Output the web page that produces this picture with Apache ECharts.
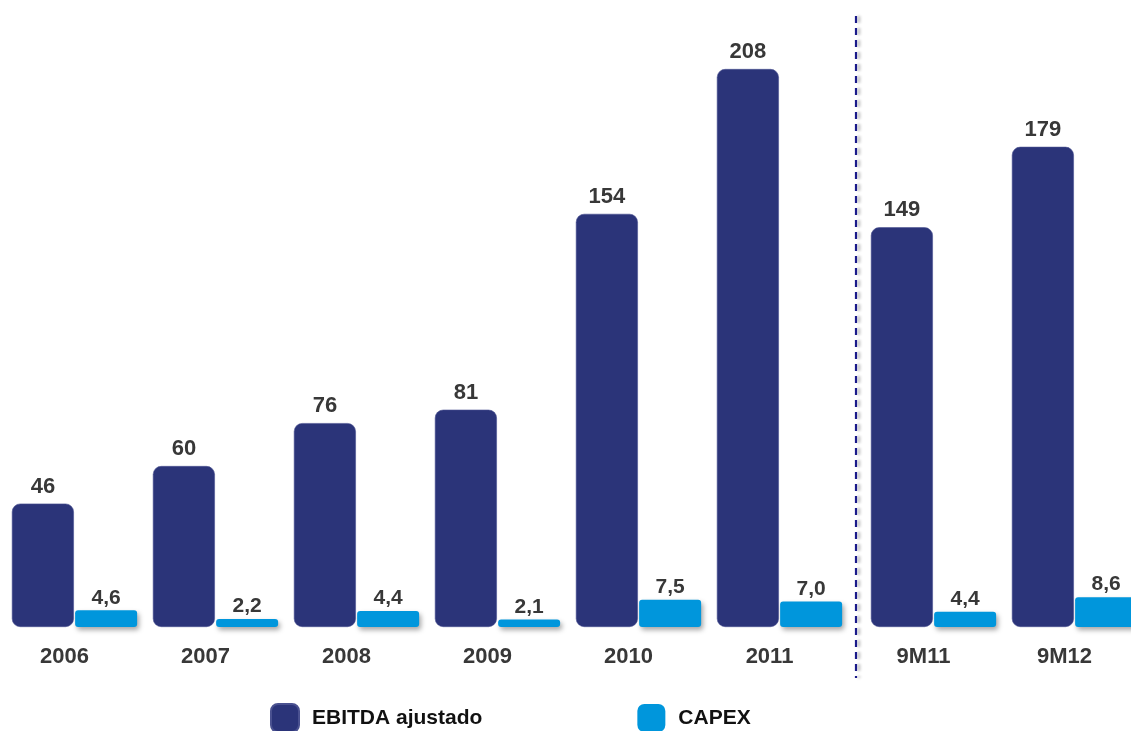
<!DOCTYPE html>
<html>
<head>
<meta charset="utf-8">
<title>EBITDA ajustado y CAPEX</title>
<script src="https://cdn.jsdelivr.net/npm/echarts@6/dist/echarts.min.js"></script>
<style>
  html, body { margin: 0; padding: 0; background: #fff; }
  #chart { width: 1131px; height: 731px; }
</style>
</head>
<body>
<div id="chart"></div>
<script>
// periodos anuales + 9 meses
const categorias = ['2006', '2007', '2008', '2009', '2010', '2011', '9M11', '9M12'];
const ebitda = [46, 60, 76, 81, 154, 208, 149, 179];
const capex = [4.6, 2.2, 4.4, 2.1, 7.5, 7.0, 4.4, 8.6];
const corte = 6; // donde empiezan los 9M

const AZUL = '#2b3479';
const CELESTE = '#0096dc';
const FONT = 'Liberation Sans, Arial, sans-serif';

const chart = echarts.init(document.getElementById('chart'));

const labelBase = {
  show: true,
  position: 'top',
  fontFamily: FONT,
  fontWeight: 'bold',
  color: '#383838'
};

const ejeX = (grid, data) => ({
  type: 'category',
  gridIndex: grid,
  data: data,
  axisLine: { show: false },
  axisTick: { show: false },
  axisLabel: {
    margin: 19,
    padding: [0, 20, 0, 0],
    fontFamily: FONT,
    fontSize: 22,
    fontWeight: 'bold',
    color: '#383838'
  }
});

const serieEbitda = (idx, data) => ({
  name: 'EBITDA ajustado',
  type: 'bar',
  xAxisIndex: idx,
  yAxisIndex: idx * 2,
  data: data,
  barWidth: 62,
  barGap: '2%',
  itemStyle: { color: AZUL, borderRadius: 8, borderColor: '#4a5190', borderWidth: 0.6 },
  label: Object.assign({}, labelBase, { fontSize: 22, distance: 6 })
});

const serieCapex = (idx, data) => ({
  name: 'CAPEX',
  type: 'bar',
  xAxisIndex: idx,
  yAxisIndex: idx * 2 + 1,
  data: data,
  barWidth: 62,
  barGap: '2%',
  itemStyle: {
    color: CELESTE,
    borderRadius: 3,
    shadowColor: 'rgba(0,0,0,0.35)',
    shadowBlur: 5,
    shadowOffsetX: 2,
    shadowOffsetY: 3
  },
  label: Object.assign({}, labelBase, {
    fontSize: 21,
    distance: 2,
    formatter: (p) => p.value.toFixed(1).replace('.', ',')
  })
});

const option = {
  animation: false,
  backgroundColor: '#fff',
  legend: {
    data: ['EBITDA ajustado', 'CAPEX'],
    left: 270,
    top: 703,
    padding: 0,
    icon: 'roundRect',
    itemWidth: 28,
    itemHeight: 28,
    itemGap: 155,
    textStyle: {
      fontFamily: FONT,
      fontSize: 21,
      fontWeight: 'bold',
      color: '#111',
      padding: [0, 0, 0, 8]
    }
  },
  grid: [
    { left: 4, top: 10, width: 846, bottom: 104, containLabel: false, outerBoundsMode: 'none' },
    { left: 863, top: 10, width: 282, bottom: 104, containLabel: false, outerBoundsMode: 'none' }
  ],
  xAxis: [
    ejeX(0, categorias.slice(0, corte)),
    ejeX(1, categorias.slice(corte))
  ],
  yAxis: [
    { type: 'value', gridIndex: 0, min: 0, max: 230, show: false },
    { type: 'value', gridIndex: 0, min: 0, max: 170, show: false },
    { type: 'value', gridIndex: 1, min: 0, max: 230, show: false },
    { type: 'value', gridIndex: 1, min: 0, max: 178, show: false }
  ],
  series: [
    serieEbitda(0, ebitda.slice(0, corte)),
    serieCapex(0, capex.slice(0, corte)),
    serieEbitda(1, ebitda.slice(corte)),
    serieCapex(1, capex.slice(corte))
  ],
  // separador entre anuales y 9M
  graphic: [
    {
      type: 'line',
      shape: { x1: 856, y1: 16, x2: 856, y2: 678 },
      style: {
        stroke: '#1a1a8a',
        lineWidth: 2.2,
        lineDash: [7, 5],
        shadowColor: 'rgba(0,0,0,0.3)',
        shadowBlur: 3,
        shadowOffsetX: 3
      }
    }
  ]
};

chart.setOption(option);
</script>
</body>
</html>
